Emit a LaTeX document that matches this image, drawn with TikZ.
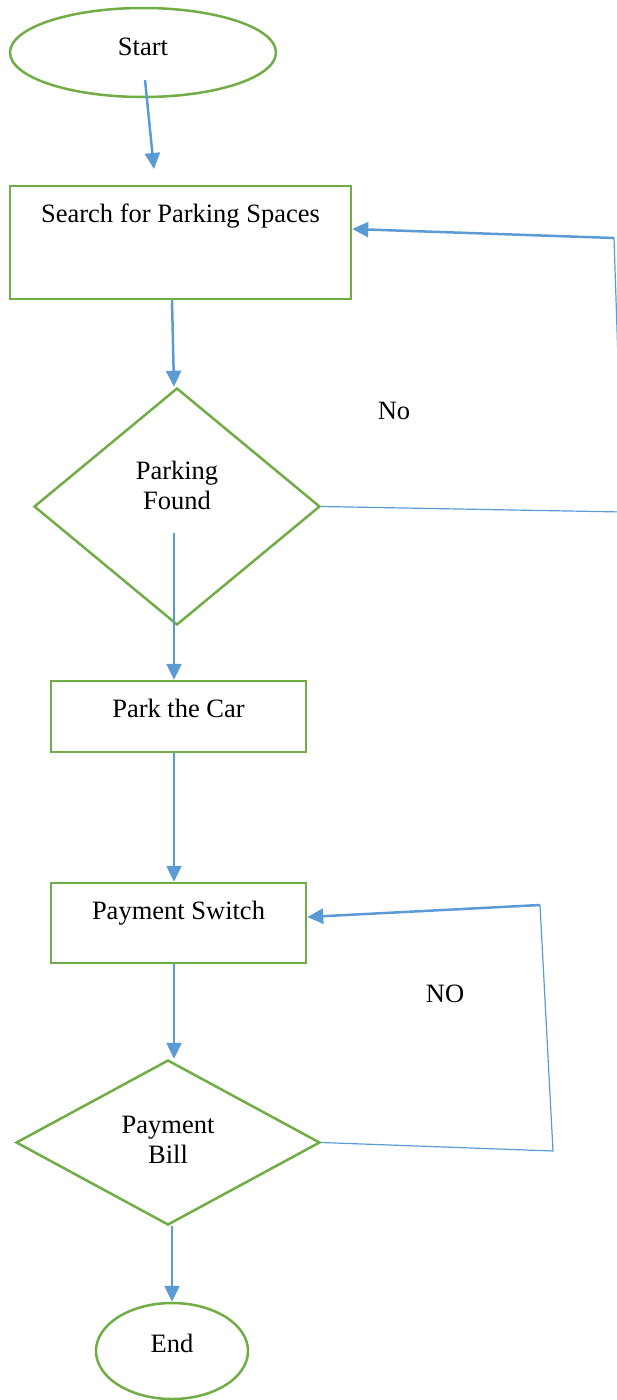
\documentclass[tikz,border=0pt]{standalone}
\usepackage{fontspec}
\setmainfont{Liberation Serif}
\usetikzlibrary{shapes.geometric,arrows.meta}
\definecolor{fgreen}{HTML}{70AD47}
\definecolor{fblue}{HTML}{5B9BD5}
\begin{document}
\begin{tikzpicture}[x=1pt,y=-1pt,
  font=\fontsize{26.5}{30}\selectfont,
  shapebox/.style={draw=fgreen, line width=2.5pt, inner sep=0pt},
  flow/.style={draw=fblue, line width=2.5pt, -{Triangle[width=15pt,length=16pt]}},
  thinline/.style={draw=fblue, line width=1.2pt},
  every label/.style={align=center}]
\useasboundingbox (0,0) rectangle (617,1400);
\clip (0,0) rectangle (617,1400);

\node[shapebox, ellipse, minimum width=266pt, minimum height=89pt,
  label={[yshift=6pt]center:Start}] (start) at (143,52.5) {};
\node[shapebox, rectangle, minimum width=341pt, minimum height=113pt,
  label={[yshift=26pt]center:Search for Parking Spaces}] (search) at (180.5,242.5) {};
\node[shapebox, diamond, minimum width=286pt, minimum height=237pt,
  label={[yshift=21pt]center:Parking\\Found}] (pf) at (177,506.5) {};
\node[shapebox, rectangle, minimum width=255pt, minimum height=71pt,
  label={[yshift=8pt]center:Park the Car}] (park) at (178.5,716.5) {};
\node[shapebox, rectangle, minimum width=255pt, minimum height=80pt,
  label={[yshift=10pt]center:Payment Switch}] (ps) at (178.5,923) {};
\node[shapebox, diamond, minimum width=304pt, minimum height=165pt,
  label={[yshift=3pt]center:Payment\\Bill}] (pb) at (168,1142.5) {};
\node[shapebox, ellipse, minimum width=152pt, minimum height=96pt,
  label={[yshift=8pt]center:End}] (end) at (172,1351) {};

\node (no1) at (394,411) {No};
\node (no2) at (445,994) {NO};

\coordinate (a1s) at (145,80);
\coordinate (a1e) at (154,169);
\coordinate (a3s) at (174,533);
\coordinate (c1) at (614,238);
\coordinate (c0) at (623,512);
\coordinate (c2) at (553,1151);
\coordinate (c3) at (540,905);

\draw[flow] (a1s) -- (a1e);
\draw[flow] ([xshift=-8.5pt]search.south) -- ([xshift=-3pt]pf.north);
\draw[flow] (a3s) -- (a3s |- park.north);
\draw[flow] ([xshift=-4.5pt]park.south) -- ([xshift=-4.5pt]ps.north);
\draw[flow] ([xshift=-4.5pt]ps.south) -- ([xshift=6pt]pb.north);
\draw[flow] ([xshift=4pt]pb.south) -- (end.north);

\draw[thinline] (pf.east) -- (c0) -- (c1);
\draw[flow] (c1) -- ([yshift=13.5pt]search.east);
\draw[thinline] (pb.east) -- (c2) -- (c3);
\draw[flow] (c3) -- ([yshift=6pt]ps.east);
\end{tikzpicture}
\end{document}
